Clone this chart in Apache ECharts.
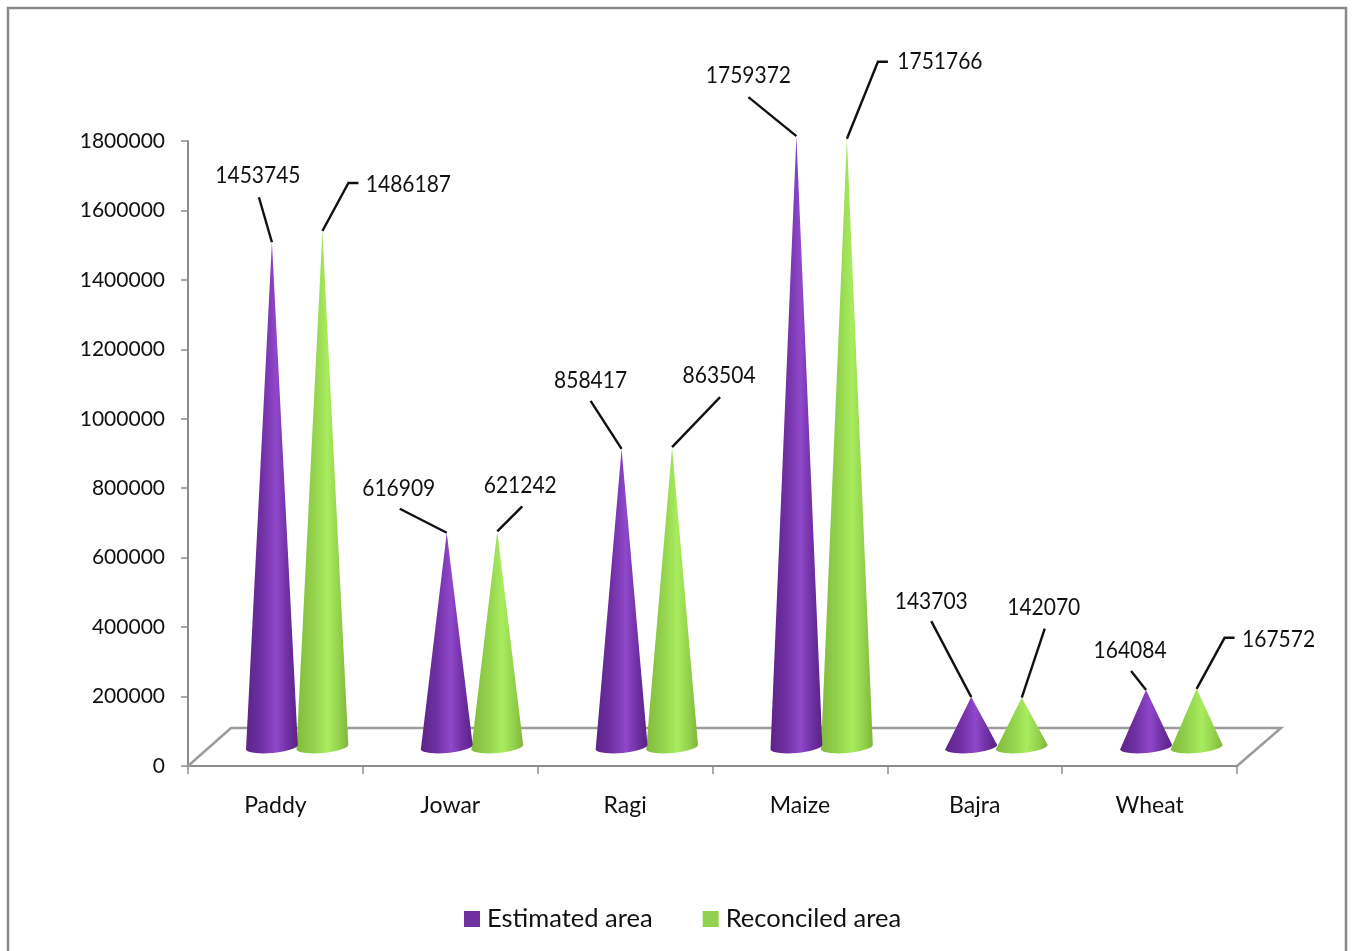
<!DOCTYPE html>
<html><head><meta charset="utf-8">
<style>html,body{margin:0;padding:0;background:#fff;overflow:hidden}#c{width:1354px;height:951px}</style>
<script src="https://cdn.jsdelivr.net/npm/echarts@6/dist/echarts.min.js"></script>
</head><body><div id="c"></div>
<script>
const categories = ['Paddy','Jowar','Ragi','Maize','Bajra','Wheat'];
const estimatedArea = [1453745,616909,858417,1759372,143703,164084];
const reconciledArea = [1486187,621242,863504,1751766,142070,167572];
const yTicks = {min:0,max:1800000,interval:200000};

// leader line bends and label centres, as pixel offsets from each cone's apex
const estimatedLeaders = [
  {line:[[-13,-45]],text:[-14,-67]},
  {line:[[-47,-24]],text:[-48,-45]},
  {line:[[-31,-48]],text:[-31,-69]},
  {line:[[-48,-39]],text:[-48,-61]},
  {line:[[-40,-76]],text:[-40,-96]},
  {line:[[-15,-19]],text:[-16,-40]}
];
const reconciledLeaders = [
  {line:[[26,-48],[36,-48]],text:[86,-47]},
  {line:[[25,-25]],text:[23,-46]},
  {line:[[48,-50]],text:[47,-72]},
  {line:[[31,-77],[41,-77]],text:[93,-77]},
  {line:[[23,-69]],text:[22,-90]},
  {line:[[28,-51],[38,-51]],text:[82,-50]}
];

const FONT = 'Lato, "Open Sans", sans-serif';
const DEPTH_Y = 19, HALF = 26;

function coneRenderer(shift, stops, leaders){
  return function(params, api){
    const idx = api.value(0), val = api.value(1);
    const base = api.coord([idx, 0]);
    const top = api.coord([idx, val]);
    const cx = base[0] + shift;
    const by = base[1] - DEPTH_Y;
    const ax = cx, ay = top[1] - DEPTH_Y;
    const pts = [[ax, ay]];
    const rot = -5 * Math.PI / 180, rx = HALF, ry = 6;
    for (let a = 0; a <= 180; a += 10) {
      const t = a * Math.PI / 180;
      const ex = rx * Math.cos(t), ey = ry * Math.sin(t);
      pts.push([cx + ex * Math.cos(rot) - ey * Math.sin(rot), by + ex * Math.sin(rot) + ey * Math.cos(rot)]);
    }
    const cone = {
      type:'polygon', shape:{points:pts},
      style:{fill:new echarts.graphic.LinearGradient(0,0,1,0,stops), stroke:null}
    };
    const lead = leaders[idx];
    const linePts = [[ax, ay]].concat(lead.line.map(p => [ax + p[0], ay + p[1]]));
    const line = {
      type:'polyline', shape:{points:linePts},
      style:{stroke:'#111', lineWidth:2.4, fill:null}
    };
    const text = {
      type:'text', x:ax + lead.text[0], y:ay + lead.text[1], scaleX:0.875,
      style:{text:String(val), fill:'#111', font:'24px ' + FONT, align:'center', verticalAlign:'middle'}
    };
    return {type:'group', children:[cone, line, text]};
  };
}

function floorRenderer(params){
  const c = params.coordSys;
  const l = c.x, r = c.x + c.width, b = c.y + c.height, dx = 43, dy = 38;
  return {type:'polyline', silent:true, shape:{points:[[l,b],[l+dx,b-dy],[r+dx+1,b-dy],[r,b]]},
    style:{stroke:'#9c9c9c', lineWidth:2.5, fill:null}};
}

const purple = [{offset:0,color:'#5b2488'},{offset:.3,color:'#7030a4'},{offset:.58,color:'#8f48ca'},{offset:.8,color:'#7030a4'},{offset:1,color:'#5a2386'}];
const green = [{offset:0,color:'#82bb3c'},{offset:.3,color:'#92d04c'},{offset:.6,color:'#a8ec5e'},{offset:.82,color:'#94d24d'},{offset:1,color:'#7fb63a'}];

const chart = echarts.init(document.getElementById('c'), null, {renderer:'canvas'});
chart.setOption({
  animation:false,
  backgroundColor:'#fff',
  graphic:[{type:'rect', silent:true, z:-1, shape:{x:8,y:8,width:1338,height:1000},
    style:{fill:'#fff', stroke:'#8a8a8a', lineWidth:2.5}}],
  grid:{left:188, top:141, width:1049, height:625, containLabel:false},
  legend:{
    data:['Estimated area','Reconciled area'], left:459, top:901, itemWidth:16, itemHeight:16, itemGap:50,
    icon:'rect', textStyle:{fontFamily:FONT, fontSize:25.5, color:'#111', padding:[0,0,0,2]}
  },
  xAxis:{
    type:'category', data:categories,
    axisLine:{lineStyle:{color:'#8c8c8c', width:2}},
    axisTick:{show:true, length:8, lineStyle:{color:'#8c8c8c', width:1.5}},
    axisLabel:{fontFamily:FONT, fontSize:23, color:'#111', margin:28},
    splitLine:{show:false}
  },
  yAxis:{
    type:'value', min:yTicks.min, max:yTicks.max, interval:yTicks.interval,
    axisLine:{show:true, lineStyle:{color:'#8c8c8c', width:2}},
    axisTick:{show:true, length:7, lineStyle:{color:'#8c8c8c', width:1.5}},
    axisLabel:{fontFamily:FONT, fontSize:21, color:'#111', margin:23, formatter:v=>String(v)},
    splitLine:{show:false}
  },
  series:[
    {type:'custom', name:'floor', renderItem:floorRenderer, data:[[0,0]], z:1, silent:true, clip:false},
    {type:'custom', name:'Estimated area', coordinateSystem:'cartesian2d', z:3, clip:false,
     itemStyle:{color:'#7030a0'},
     renderItem:coneRenderer(-3.5, purple, estimatedLeaders),
     data:estimatedArea.map((v,i)=>[i,v]), encode:{x:0,y:1}},
    {type:'custom', name:'Reconciled area', coordinateSystem:'cartesian2d', z:2, clip:false,
     itemStyle:{color:'#92d050'},
     renderItem:coneRenderer(47, green, reconciledLeaders),
     data:reconciledArea.map((v,i)=>[i,v]), encode:{x:0,y:1}}
  ]
});
</script></body></html>
